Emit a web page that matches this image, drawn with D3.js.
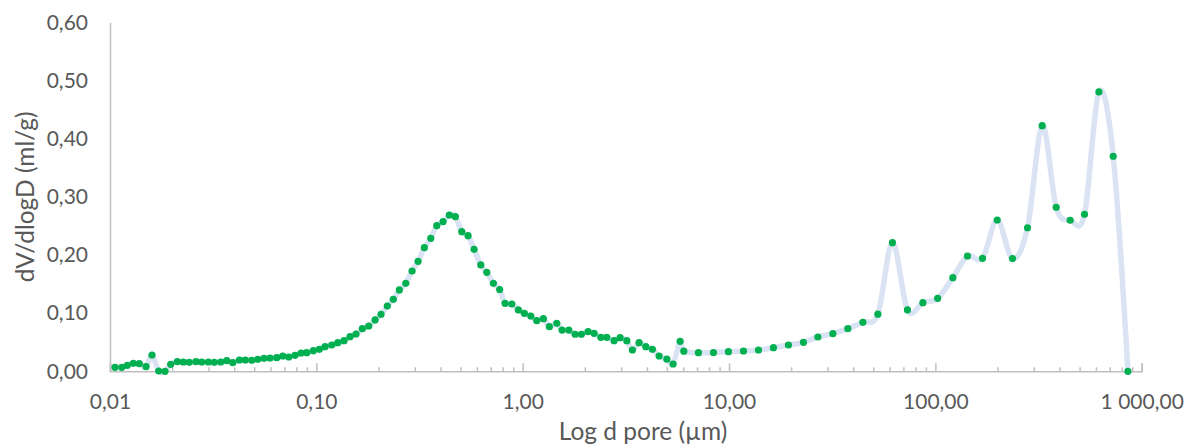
<!DOCTYPE html>
<html><head><meta charset="utf-8">
<script src="https://cdn.jsdelivr.net/npm/d3@7"></script>
<style>
body{margin:0;background:#fff}
svg text{font-family:Lato,"Open Sans",sans-serif;fill:#595959}
</style>
</head><body>
<svg id="chart" width="1193" height="446"></svg>
<script>
// Pore diameter (µm)
const poreDiameter = [
  0.01057,0.01140,0.01213,0.01297,0.01387,0.01495,0.01598,0.01722,0.01848,0.01969,
  0.02120,0.02267,0.02423,0.02612,0.02783,0.02996,0.03202,0.03440,0.03679,0.03934,
  0.04236,0.04527,0.04863,0.05200,0.05578,0.05966,0.06427,0.06872,0.07349,0.07885,
  0.08431,0.08984,0.09672,0.1034,0.1102,0.1188,0.1270,0.1363,0.1457,0.1557,
  0.1671,0.1795,0.1926,0.2059,0.2208,0.2361,0.2525,0.2713,0.2910,0.3112,
  0.3338,0.3586,0.3834,0.4113,0.4412,0.4718,0.5067,0.5436,0.5814,0.6266,
  0.6699,0.7211,0.7736,0.8216,0.8857,0.9532,1.019,1.095,1.170,1.260,
  1.347,1.463,1.552,1.673,1.795,1.926,2.075,2.219,2.392,2.557,
  2.773,2.966,3.196,3.402,3.666,3.951,4.253,4.584,4.994,5.358,
  5.795,6.039,7.108,8.406,9.933,11.75,13.89,16.42,19.41,22.95,
  26.95,31.86,37.66,44.53,52.64,61.95,73.24,86.98,102.6,121.6,
  143.1,169.2,199.4,236.5,279.6,329.5,385.1,450.2,528.1,620.2,
  727.7,857.3
];
// dV/dlogD (ml/g)
const dVdlogD = [
  0.0069,0.0069,0.0103,0.0138,0.0131,0.0079,0.0280,0.0005,0.0000,0.0120,
  0.0165,0.0160,0.0155,0.0165,0.0160,0.0160,0.0155,0.0160,0.0182,0.0148,
  0.0194,0.0194,0.0189,0.0206,0.0224,0.0229,0.0234,0.0263,0.0246,0.0275,
  0.0315,0.0320,0.0354,0.0378,0.0423,0.0452,0.0492,0.0526,0.0595,0.0642,
  0.0733,0.0779,0.0883,0.0981,0.1123,0.1239,0.1399,0.1514,0.1725,0.1892,
  0.2126,0.2288,0.2505,0.2574,0.2689,0.2660,0.2402,0.2333,0.2099,0.1829,
  0.1703,0.1514,0.1407,0.1170,0.1158,0.1055,0.0998,0.0951,0.0870,0.0905,
  0.0767,0.0826,0.0710,0.0710,0.0637,0.0637,0.0681,0.0654,0.0585,0.0585,
  0.0526,0.0578,0.0526,0.0366,0.0492,0.0423,0.0378,0.0263,0.0208,0.0126,
  0.0516,0.0346,0.0320,0.0323,0.0337,0.0349,0.0366,0.0406,0.0452,0.0499,
  0.0590,0.0647,0.0733,0.0843,0.0982,0.2212,0.1055,0.1180,0.1256,0.1610,
  0.1983,0.1944,0.2603,0.1939,0.2469,0.4225,0.2821,0.2598,0.2701,0.4805,
  0.3699,0.0000
];
const xTickValues = [0.01, 0.1, 1, 10, 100, 1000];
const xTickLabels = ["0,01", "0,10", "1,00", "10,00", "100,00", "1 000,00"];
const yTickValues = [0, 0.1, 0.2, 0.3, 0.4, 0.5, 0.6];
const yTickLabels = ["0,00", "0,10", "0,20", "0,30", "0,40", "0,50", "0,60"];
const xTitle = "Log d pore (µm)";
const yTitle = "dV/dlogD (ml/g)";

const svg = d3.select("#chart");
const mLeft = 110, mRight = 1141.7, mTop = 22.5, mBottom = 371.3;
const x = d3.scaleLog().domain([0.01, 1000]).range([mLeft, mRight]);
const y = d3.scaleLinear().domain([0, 0.6]).range([mBottom, mTop]);
const axisColor = "#bfbfbf";

// y axis
const yAxis = svg.append("g").attr("transform", `translate(${mLeft},0)`)
  .call(d3.axisLeft(y).tickValues(yTickValues).tickSize(0).tickPadding(22)
    .tickFormat((d, i) => yTickLabels[i]));
yAxis.select(".domain").attr("stroke", axisColor).attr("stroke-width", 1.5);
yAxis.selectAll("text").style("font-size", "21px");

// minor ticks
const minorVals = x.ticks().filter(v => !xTickValues.some(m => Math.abs(m - v) / m < 1e-6));
const minorAxis = svg.append("g").attr("transform", `translate(0,${mBottom})`)
  .call(d3.axisBottom(x).tickValues(minorVals).tickSize(-4).tickFormat(""));
minorAxis.select(".domain").remove();
minorAxis.selectAll("line").attr("stroke", axisColor).attr("stroke-width", 1.5);

// x axis (major)
const xAxis = svg.append("g").attr("transform", `translate(0,${mBottom})`)
  .call(d3.axisBottom(x).tickValues(xTickValues).tickSize(-8).tickPadding(23)
    .tickFormat((d, i) => xTickLabels[i]));
xAxis.select(".domain").attr("stroke", axisColor).attr("stroke-width", 1.5);
xAxis.selectAll("line").attr("stroke", axisColor).attr("stroke-width", 1.5);
xAxis.selectAll("text").style("font-size", "21px");

// smooth line
const pts = poreDiameter.map((d, i) => [x(d), y(dVdlogD[i])]);
svg.append("path")
  .attr("d", d3.line().curve(d3.curveCardinal.tension(0))(pts))
  .attr("fill", "none").attr("stroke", "#dae3f3").attr("stroke-width", 5.5)
  .attr("stroke-linejoin", "round");

// markers
svg.append("g").selectAll("circle").data(poreDiameter).join("circle")
  .attr("cx", d => x(d)).attr("cy", (d, i) => y(dVdlogD[i]))
  .attr("r", 3.6).attr("fill", "#00b050");

// titles
svg.append("text").attr("x", 643).attr("y", 440).attr("text-anchor", "middle")
  .style("font-size", "24.5px").text(xTitle);
svg.append("text").attr("transform", `translate(34,${(mTop + mBottom) / 2}) rotate(-90)`)
  .attr("text-anchor", "middle").style("font-size", "24.5px").text(yTitle);
</script>
</body></html>
